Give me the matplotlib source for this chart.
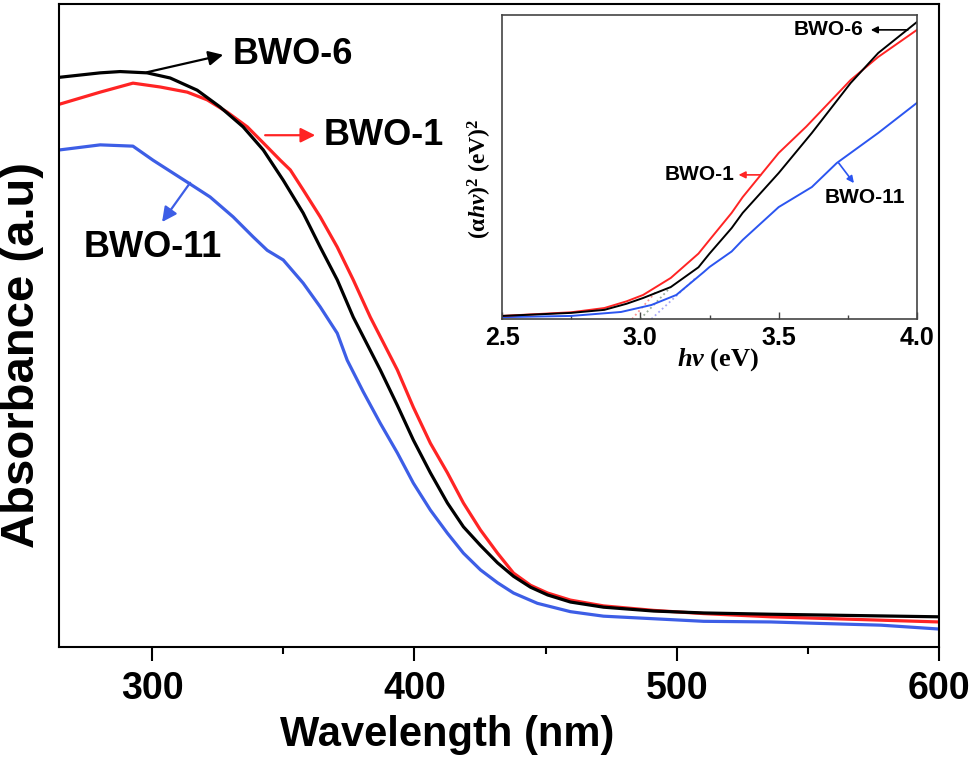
import numpy as np
import matplotlib
matplotlib.use('Agg')
import matplotlib.pyplot as plt
from matplotlib.ticker import MultipleLocator, FormatStrFormatter

plt.rcParams['font.family'] = ['Liberation Sans', 'DejaVu Sans']
plt.rcParams['font.weight'] = 'bold'
plt.rcParams['mathtext.fontset'] = 'custom'
plt.rcParams['mathtext.rm'] = 'Liberation Serif:bold'
plt.rcParams['mathtext.it'] = 'Liberation Serif:italic:bold'
plt.rcParams['mathtext.bf'] = 'Liberation Serif:bold'

RED = '#ff2424'
BLUE = '#3d5ee6'
BLACK = '#000000'

# main panel: UV-vis absorbance (a.u.)
wl_bwo6 = [264.5, 280.2, 287.8, 298.1, 306.9, 317.2, 325.9, 334.7, 342.4, 350.0, 357.6,
           364.1, 370.6, 376.7, 387.0, 393.5, 399.6, 406.1, 412.6, 418.7, 425.2, 431.7,
           437.8, 444.3, 450.8, 459.5, 472.1, 491.2, 510.3, 535.9, 600.0]
abs_bwo6 = [0.886, 0.893, 0.895, 0.893, 0.885, 0.866, 0.840, 0.809, 0.773, 0.726, 0.675,
            0.622, 0.571, 0.513, 0.431, 0.376, 0.322, 0.271, 0.224, 0.187, 0.158, 0.131,
            0.110, 0.093, 0.081, 0.070, 0.062, 0.056, 0.053, 0.051, 0.047]

wl_bwo1 = [264.5, 280.2, 292.7, 303.1, 313.4, 321.0, 328.6, 336.3, 342.4, 348.9, 352.7,
           357.6, 364.1, 370.6, 376.7, 383.2, 393.5, 399.6, 406.1, 412.6, 418.7, 425.2,
           431.7, 437.8, 444.3, 450.8, 459.5, 472.1, 491.2, 510.3, 535.9, 600.0]
abs_bwo1 = [0.844, 0.863, 0.877, 0.871, 0.863, 0.851, 0.832, 0.809, 0.784, 0.757, 0.742,
            0.711, 0.669, 0.622, 0.571, 0.513, 0.431, 0.373, 0.317, 0.271, 0.224, 0.182,
            0.146, 0.115, 0.096, 0.084, 0.073, 0.064, 0.057, 0.052, 0.047, 0.039]

wl_bwo11 = [264.5, 280.2, 292.7, 300.4, 313.4, 322.1, 330.9, 338.5, 343.9, 350.0, 357.6,
            364.1, 370.6, 374.4, 380.5, 387.0, 393.5, 399.6, 406.1, 412.6, 418.7, 425.2,
            431.7, 437.8, 446.9, 459.5, 472.1, 491.2, 510.3, 535.9, 552.3, 577.9, 600.0]
abs_bwo11 = [0.773, 0.781, 0.779, 0.757, 0.723, 0.700, 0.669, 0.638, 0.617, 0.602, 0.566,
             0.529, 0.488, 0.446, 0.397, 0.348, 0.302, 0.255, 0.213, 0.177, 0.146, 0.120,
             0.100, 0.084, 0.068, 0.055, 0.048, 0.044, 0.040, 0.039, 0.037, 0.034, 0.028]

# inset: Tauc plot (alpha h nu)^2 vs h nu
ev_bwo6 = [2.5, 2.75, 2.87, 2.95, 3.01, 3.11, 3.21, 3.25, 3.33, 3.37, 3.50, 3.62, 3.76, 3.86, 4.0]
tauc_bwo6 = [0.010, 0.020, 0.030, 0.050, 0.069, 0.105, 0.170, 0.215, 0.299, 0.349, 0.480,
             0.612, 0.776, 0.875, 0.977]

ev_bwo1 = [2.5, 2.75, 2.87, 2.95, 3.01, 3.11, 3.21, 3.25, 3.33, 3.37, 3.50, 3.60, 3.76, 3.86, 4.0]
tauc_bwo1 = [0.010, 0.022, 0.036, 0.058, 0.079, 0.135, 0.215, 0.260, 0.349, 0.401, 0.546,
             0.633, 0.786, 0.862, 0.951]

ev_bwo11 = [2.5, 2.75, 2.93, 3.04, 3.13, 3.23, 3.25, 3.33, 3.37, 3.50, 3.62, 3.71, 3.86, 4.0]
tauc_bwo11 = [0.006, 0.010, 0.023, 0.046, 0.079, 0.155, 0.171, 0.222, 0.260, 0.368, 0.434,
              0.513, 0.612, 0.711]

# band-gap tangent lines (start on baseline, end on curve)
tan_bwo6 = ([3.00, 3.11], [0.0, 0.105])
tan_bwo1 = ([2.97, 3.055], [0.0, 0.088])
tan_bwo11 = ([3.04, 3.20], [0.0, 0.135])

fig = plt.figure(figsize=(9.75, 7.64), dpi=100)
ax = fig.add_axes([0.0605, 0.1531, 0.9025, 0.8416])

line_kw = dict(lw=2.3, solid_joinstyle='round', solid_capstyle='round')
ax.plot(wl_bwo11, abs_bwo11, color=BLUE, **line_kw)
ax.plot(wl_bwo1, abs_bwo1, color=RED, **line_kw)
ax.plot(wl_bwo6, abs_bwo6, color=BLACK, **line_kw)

ax.set_xlim(264.5, 600)
ax.set_ylim(0, 1)
ax.xaxis.set_major_locator(MultipleLocator(100))
ax.xaxis.set_minor_locator(MultipleLocator(50))
ax.set_yticks([])
ax.tick_params(axis='x', which='major', direction='out', length=10, width=1.5,
               labelsize=27, pad=7)
ax.tick_params(axis='x', which='minor', direction='out', length=5, width=1.5)
for s in ax.spines.values():
    s.set_linewidth(1.5)

ax.set_xlabel('Wavelength (nm)', fontsize=30, fontweight='bold', va='center')
ax.xaxis.set_label_coords(0.441, -0.137)
fig.text(22 / 975, 1 - 355 / 764, 'Absorbance (a.u)', fontsize=34, fontweight='bold',
         rotation=90, ha='center', va='center')

arrow_kw = dict(arrowstyle='-|>', lw=1.6, mutation_scale=22, shrinkA=0, shrinkB=0)
ax.annotate('', xy=(327.1, 0.921), xytext=(298.1, 0.894),
            arrowprops=dict(color=BLACK, **arrow_kw))
ax.text(353.8, 0.921, 'BWO-6', fontsize=26, fontweight='bold', ha='center', va='center')
ax.annotate('', xy=(362.2, 0.796), xytext=(343.1, 0.796),
            arrowprops=dict(color=RED, **arrow_kw))
ax.text(365.3, 0.796, 'BWO-1', fontsize=26, fontweight='bold', ha='left', va='center')
ax.annotate('', xy=(303.8, 0.661), xytext=(314.5, 0.722),
            arrowprops=dict(color=BLUE, **arrow_kw))
ax.text(300.4, 0.621, 'BWO-11', fontsize=26, fontweight='bold', ha='center', va='center')

# inset
ins = fig.add_axes([0.5149, 0.5825, 0.4256, 0.3979])
ins.plot(tan_bwo1[0], tan_bwo1[1], color=RED, lw=1.3, ls=':', alpha=0.5)
ins.plot(tan_bwo6[0], tan_bwo6[1], color='#557755', lw=1.3, ls=':', alpha=0.6)
ins.plot(tan_bwo11[0], tan_bwo11[1], color='#6a6af0', lw=1.3, ls=':', alpha=0.6)
ins.plot(ev_bwo11, tauc_bwo11, color='#2b55f0', lw=1.4, solid_joinstyle='round')
ins.plot(ev_bwo1, tauc_bwo1, color=RED, lw=1.4, solid_joinstyle='round')
ins.plot(ev_bwo6, tauc_bwo6, color=BLACK, lw=1.4, solid_joinstyle='round')
ins.set_xlim(2.5, 4.0)
ins.set_ylim(0, 1)
ins.xaxis.set_major_locator(MultipleLocator(0.5))
ins.xaxis.set_minor_locator(MultipleLocator(0.25))
ins.xaxis.set_major_formatter(FormatStrFormatter('%.1f'))
ins.set_yticks([])
ins.tick_params(axis='x', which='major', direction='in', length=5, width=1.0,
                labelsize=18, pad=5, color='#444444')
ins.tick_params(axis='x', which='minor', direction='in', length=3, width=1.0,
                color='#444444')
for s in ins.spines.values():
    s.set_linewidth(1.2)
    s.set_color('#444444')

ins.set_xlabel(r'$hv$ (eV)', family='Liberation Serif', fontsize=19, fontweight='bold',
               va='center')
ins.xaxis.set_label_coords(0.52, -0.135)
ins.set_ylabel(r'$(\mathrm{\alpha}hv)^2$ (eV)$^2$', family='Liberation Serif', fontsize=17,
               fontweight='bold', va='center')
ins.yaxis.set_label_coords(-0.053, 0.46)

small_kw = dict(arrowstyle='-|>', lw=1.2, mutation_scale=10, shrinkA=0, shrinkB=0)
ins.annotate('', xy=(3.833, 0.951), xytext=(3.967, 0.951),
             arrowprops=dict(color=BLACK, **small_kw))
ins.text(3.679, 0.951, 'BWO-6', fontsize=15, fontweight='bold', ha='center', va='center')
ins.annotate('', xy=(3.355, 0.474), xytext=(3.435, 0.474),
             arrowprops=dict(color=RED, **small_kw))
ins.text(3.214, 0.474, 'BWO-1', fontsize=15, fontweight='bold', ha='center', va='center')
ins.annotate('', xy=(3.772, 0.447), xytext=(3.717, 0.513),
             arrowprops=dict(color='#2b55f0', **small_kw))
ins.text(3.812, 0.398, 'BWO-11', fontsize=15, fontweight='bold', ha='center', va='center')

fig.savefig('out.png', dpi=100)
